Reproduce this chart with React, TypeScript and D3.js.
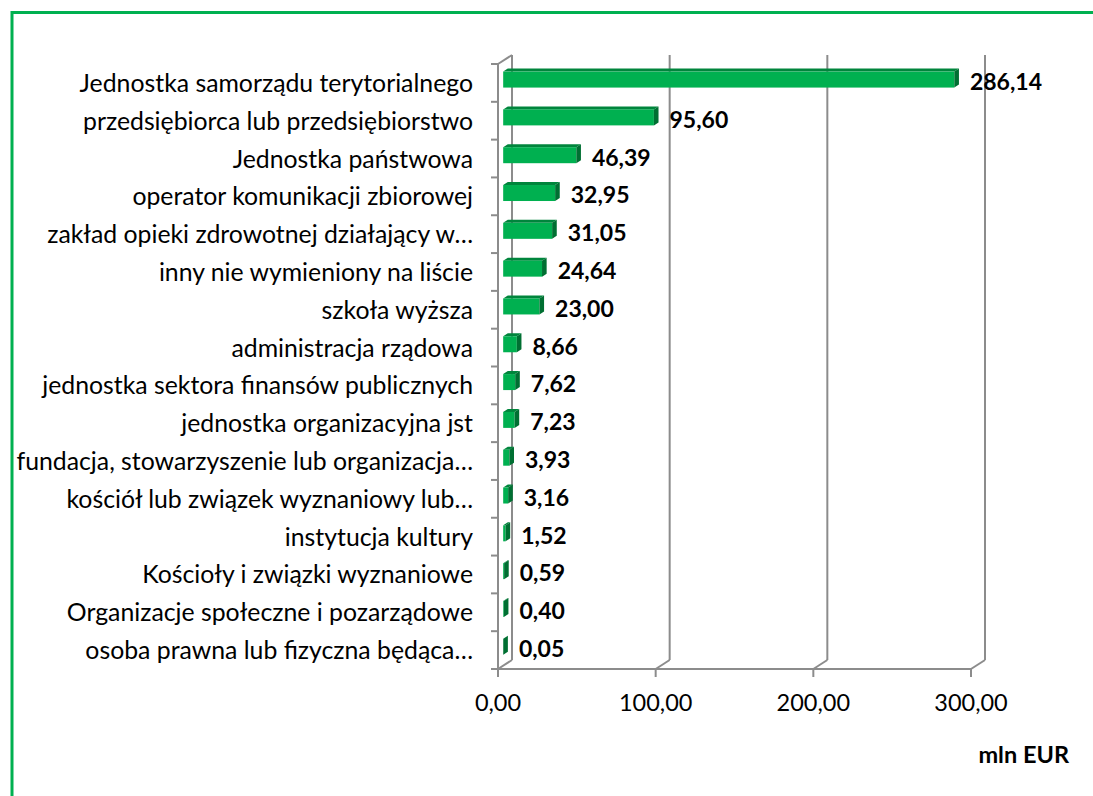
import React from "react";
import * as d3 from "d3";

const categories = [
  "Jednostka samorządu terytorialnego",
  "przedsiębiorca lub przedsiębiorstwo",
  "Jednostka państwowa",
  "operator komunikacji zbiorowej",
  "zakład opieki zdrowotnej działający w…",
  "inny nie wymieniony na liście",
  "szkoła wyższa",
  "administracja rządowa",
  "jednostka sektora finansów publicznych",
  "jednostka organizacyjna jst",
  "fundacja, stowarzyszenie lub organizacja…",
  "kościół lub związek wyznaniowy lub…",
  "instytucja kultury",
  "Kościoły i związki wyznaniowe",
  "Organizacje społeczne i pozarządowe",
  "osoba prawna lub fizyczna będąca…",
];
const values = [286.14, 95.6, 46.39, 32.95, 31.05, 24.64, 23.0, 8.66, 7.62, 7.23, 3.93, 3.16, 1.52, 0.59, 0.4, 0.05];
const xTicks = [0, 100, 200, 300];
const unitLabel = "mln EUR";

const pl = d3.formatLocale({ decimal: ",", thousands: " ", grouping: [3], currency: ["", " €"] });
const fmt = pl.format(".2f");

const W = 1093;
const H = 796;
const FONT = "Lato, Carlito, Calibri, sans-serif";

export default function App() {
  const x = d3.scaleLinear().domain([0, 300]).range([498, 971]);
  const y = d3.scaleBand<string>().domain(categories).range([64, 669]).paddingInner(0).paddingOuter(0);
  const depthX = 14;
  const depthY = -9;
  const f1 = 0.37;
  const f2 = 0.7;
  const bw = y.bandwidth();
  const barH = 16;
  const grid = "#8c8c8c";
  const yTop = 64;
  const yBot = 669;

  return (
    <svg width={W} height={H} style={{ position: "absolute", left: 0, top: 0, background: "#fff" }} fontFamily={FONT}>
      <rect x={12} y={12.5} width={W + 20} height={H + 20} fill="#fff" stroke="#00B050" strokeWidth={3} />
      {/* back wall gridlines */}
      {xTicks.filter((t) => t > 0).map((t) => (
        <line key={"g" + t} x1={x(t) + depthX} x2={x(t) + depthX} y1={yBot + depthY} y2={yTop + depthY} stroke={grid} strokeWidth={2} />
      ))}
      {/* floor diagonals */}
      {xTicks.map((t) => (
        <line key={"fd" + t} x1={x(t)} y1={yBot} x2={x(t) + depthX} y2={yBot + depthY} stroke={grid} strokeWidth={2} />
      ))}
      {/* left wall */}
      <line x1={x(0) + depthX} x2={x(0) + depthX} y1={yTop + depthY} y2={yBot + depthY} stroke={grid} strokeWidth={2} />
      <line x1={x(0)} y1={yTop} x2={x(0) + depthX} y2={yTop + depthY} stroke={grid} strokeWidth={2} />
      <line x1={x(0)} x2={x(0)} y1={yTop} y2={yBot + 1} stroke={grid} strokeWidth={2} />
      {/* front floor line */}
      <line x1={x(0) - 1} x2={x(300) + 1} y1={yBot} y2={yBot} stroke={grid} strokeWidth={2} />
      {/* category ticks */}
      {d3.range(categories.length + 1).map((i) => (
        <line key={"ct" + i} x1={x(0) - 7} x2={x(0)} y1={yTop + i * bw} y2={yTop + i * bw} stroke={grid} strokeWidth={2} />
      ))}
      {/* value ticks */}
      {xTicks.map((t) => (
        <line key={"vt" + t} x1={x(t)} x2={x(t)} y1={yBot} y2={yBot + 8} stroke={grid} strokeWidth={2} />
      ))}
      {/* bars */}
      {categories.map((c, i) => {
        const v = values[i];
        const cy = (y(c) as number) + bw / 2;
        const fx0 = x(0) + depthX * f1;
        const fx1 = x(v) + depthX * f1;
        const fy0 = cy + depthY * f1 - barH / 2;
        const fy1 = fy0 + barH;
        const ddx = depthX * (f2 - f1);
        const ddy = depthY * (f2 - f1);
        const top = `M${fx0},${fy0} L${fx1},${fy0} L${fx1 + ddx},${fy0 + ddy} L${fx0 + ddx},${fy0 + ddy} Z`;
        const side = `M${fx1},${fy0} L${fx1 + ddx},${fy0 + ddy} L${fx1 + ddx},${fy1 + ddy} L${fx1},${fy1} Z`;
        return (
          <g key={"b" + i}>
            <path d={top} fill="#00853C" />
            <rect x={fx0} y={fy0} width={Math.max(0, fx1 - fx0)} height={barH} fill="#00B050" />
            <path d={side} fill="#006F32" />
          </g>
        );
      })}
      {/* value labels */}
      {categories.map((c, i) => {
        const cy = (y(c) as number) + bw / 2;
        return (
          <text key={"vl" + i} x={x(values[i]) + depthX * f2 + 11} y={cy + 7} fontSize={23} fontWeight="bold" fill="#000">
            {fmt(values[i])}
          </text>
        );
      })}
      {/* category labels */}
      {categories.map((c) => {
        const cy = (y(c) as number) + bw / 2;
        return (
          <text key={"cl" + c} x={473} y={cy + 9} fontSize={24.8} textAnchor="end" fill="#000">
            {c}
          </text>
        );
      })}
      {/* x tick labels */}
      {xTicks.map((t) => (
        <text key={"xl" + t} x={x(t)} y={711} fontSize={23.5} textAnchor="middle" fill="#000">
          {fmt(t)}
        </text>
      ))}
      <text x={1069} y={763} fontSize={23.5} fontWeight="bold" textAnchor="end" fill="#000">
        {unitLabel}
      </text>
    </svg>
  );
}
